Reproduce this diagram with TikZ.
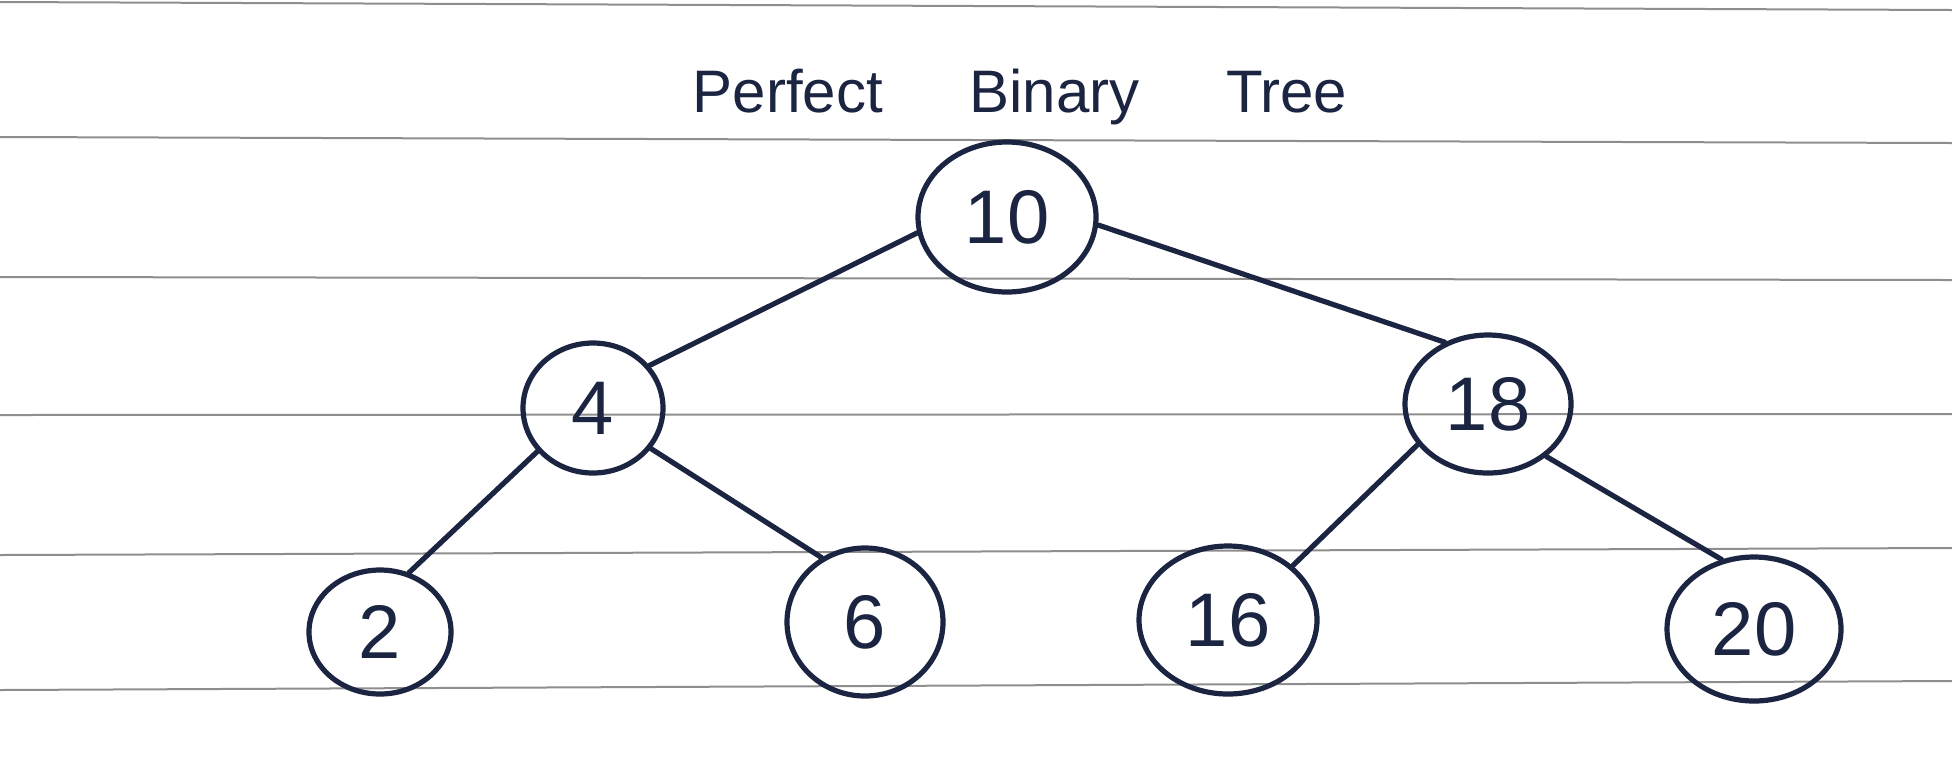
\documentclass[tikz,border=0pt]{standalone}
\usepackage{fontspec}
\setmainfont{Liberation Sans}
\newfontfamily\titlefont[WordSpace=5.2]{Liberation Sans}
\usetikzlibrary{shapes.geometric}
\definecolor{ink}{HTML}{1B2542}
\definecolor{rulecol}{HTML}{8E8E8E}
\begin{document}
\begin{tikzpicture}[x=0.5pt,y=-0.5pt,
  key/.style={ellipse,draw=ink,line width=2.6pt,inner sep=0pt,text=ink,
    font=\fontsize{38}{40}\selectfont},
  edge/.style={draw=ink,line width=2.6pt,line cap=round},
  ruling/.style={draw=rulecol,line width=1pt}]
\useasboundingbox[fill=white] (0,0) rectangle (1952,768);
% ruled paper lines
\draw[ruling] (0,2) -- (1952,10);
\draw[ruling] (0,137) -- (1952,143);
\draw[ruling] (0,277) -- (1952,280);
\draw[ruling] (0,415) -- (1952,414);
\draw[ruling] (0,555) -- (1952,548);
\draw[ruling] (0,690) -- (1952,681);
% title
\node[text=ink,font=\titlefont\fontsize{30}{34}\selectfont,anchor=base] (title) at (1020,112) {Perfect Binary Tree};
% tree nodes
\node[key,minimum width=89pt,minimum height=75pt] (n10) at (1007,217) {10};
\node[key,minimum width=70pt,minimum height=65pt] (n4) at (593,408) {4};
\node[key,minimum width=83pt,minimum height=69pt] (n18) at (1488,404) {18};
\node[key,minimum width=71pt,minimum height=62pt] (n2) at (380,632) {2};
\node[key,minimum width=78pt,minimum height=74pt] (n6) at (865,622) {6};
\node[key,minimum width=89pt,minimum height=74pt] (n16) at (1228,620) {16};
\node[key,minimum width=87pt,minimum height=72pt] (n20) at (1754,629) {20};
% edges
\draw[edge] (n10.190) -- (n4.37);
\draw[edge] (n10.355) -- (n18.125);
\draw[edge] (n4.218) -- (n2.64);
\draw[edge] (n4.325) -- (n6.124);
\draw[edge] (n18.210) -- (n16.40);
\draw[edge] (n18.318) -- (n20.115);
\end{tikzpicture}
\end{document}
